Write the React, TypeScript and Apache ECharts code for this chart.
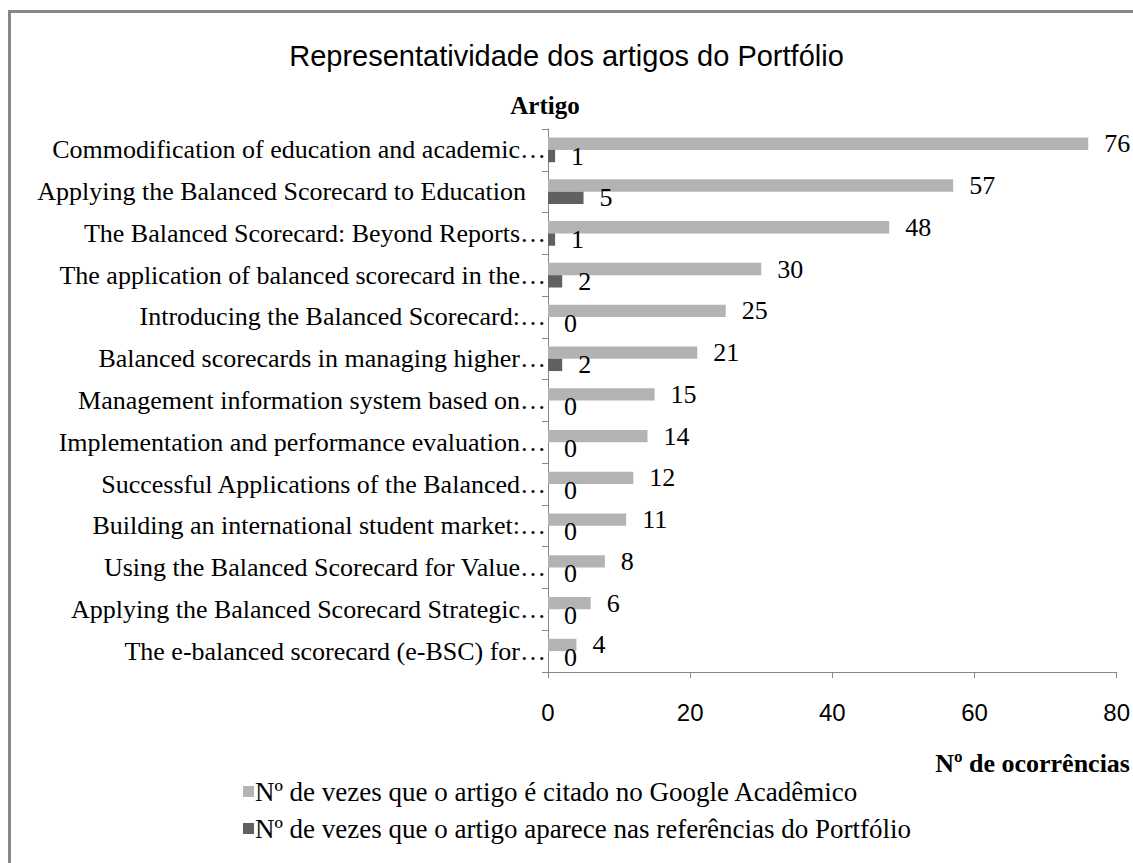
import React, { useEffect, useRef } from "react";
import * as echarts from "echarts";

const categories = [
  "Commodification of education and academic…",
  "Applying the Balanced Scorecard to Education",
  "The Balanced Scorecard: Beyond Reports…",
  "The application of balanced scorecard in the…",
  "Introducing the Balanced Scorecard:…",
  "Balanced scorecards in managing higher…",
  "Management information system based on…",
  "Implementation and performance evaluation…",
  "Successful Applications of the Balanced…",
  "Building an international student market:…",
  "Using the Balanced Scorecard for Value…",
  "Applying the Balanced Scorecard Strategic…",
  "The e-balanced scorecard (e-BSC) for…",
];
const googleCitations = [76, 57, 48, 30, 25, 21, 15, 14, 12, 11, 8, 6, 4];
const portfolioRefs = [1, 5, 1, 2, 0, 2, 0, 0, 0, 0, 0, 0, 0];
const xTicks = [0, 20, 40, 60, 80];
const seriesNames = [
  "Nº de vezes que o artigo é citado no Google Acadêmico",
  "Nº de vezes que o artigo aparece nas referências do Portfólio",
];
const titleText = "Representatividade dos artigos do Portfólio";
const yAxisName = "Artigo";
const xAxisName = "Nº de ocorrências";

const SERIF = "'Liberation Serif', 'Times New Roman', serif";
const SANS = "'Liberation Sans', Arial, sans-serif";

export default function App() {
  const ref = useRef<HTMLDivElement>(null);
  useEffect(() => {
    if (!ref.current) return;
    const chart = echarts.init(ref.current, null, { renderer: "svg" });
    const padLabel = categories[1];
    chart.setOption({
      animation: false,
      backgroundColor: "#ffffff",
      title: {
        text: titleText,
        left: "center",
        top: 36,
        textStyle: { fontFamily: SANS, fontSize: 29, fontWeight: "normal", color: "#000" },
      },
      legend: {
        orient: "vertical",
        left: 238,
        top: 773,
        itemWidth: 11,
        itemHeight: 11,
        itemGap: 10,
        icon: "rect",
        textStyle: { fontFamily: SERIF, fontSize: 27, color: "#000", padding: [0, 0, 0, -4] },
        data: seriesNames,
      },
      grid: { left: 548, right: 15, top: 129, bottom: 191, containLabel: false },
      xAxis: {
        type: "value",
        min: xTicks[0],
        max: xTicks[xTicks.length - 1],
        interval: 20,
        axisLine: { show: true, lineStyle: { color: "#888", width: 1 } },
        axisTick: { show: true, length: 6, lineStyle: { color: "#888" } },
        splitLine: { show: false },
        axisLabel: { fontFamily: SANS, fontSize: 24, color: "#000", margin: 28 },
      },
      yAxis: {
        type: "category",
        inverse: true,
        data: categories,
        axisLine: { show: true, lineStyle: { color: "#888", width: 1 } },
        axisTick: { show: true, length: 6, lineStyle: { color: "#888" } },
        axisLabel: {
          fontFamily: SERIF,
          fontSize: 26,
          color: "#000",
          margin: 2,
          formatter: (v: string) => (v === padLabel ? `{pad|${v}}` : v),
          rich: {
            pad: { fontFamily: SERIF, fontSize: 26, color: "#000", padding: [0, 20, 0, 0] },
          },
        },
      },
      series: [
        {
          name: seriesNames[0],
          type: "bar",
          data: googleCitations,
          barGap: "0%",
          barCategoryGap: "41%",
          itemStyle: { color: "#b3b3b3" },
          label: {
            show: true,
            position: "right",
            distance: 16,
            fontFamily: SERIF,
            fontSize: 26,
            color: "#000",
          },
        },
        {
          name: seriesNames[1],
          type: "bar",
          data: portfolioRefs,
          barGap: "0%",
          barCategoryGap: "41%",
          itemStyle: { color: "#606060" },
          label: {
            show: true,
            position: "right",
            distance: 16,
            fontFamily: SERIF,
            fontSize: 26,
            color: "#000",
          },
        },
      ],
      graphic: [
        {
          type: "rect",
          silent: true,
          shape: { x: 9.5, y: 11.5, width: 1200, height: 1000 },
          style: { fill: "none", stroke: "#888", lineWidth: 3 },
        },
        {
          type: "text",
          x: 545,
          y: 105,
          style: {
            text: yAxisName,
            fontFamily: SERIF,
            fontSize: 25,
            fontWeight: "bold",
            fill: "#000",
            textAlign: "center",
            textVerticalAlign: "middle",
          },
        },
        {
          type: "text",
          x: 1130,
          y: 763,
          style: {
            text: xAxisName,
            fontFamily: SERIF,
            fontSize: 26,
            fontWeight: "bold",
            fill: "#000",
            textAlign: "right",
            textVerticalAlign: "middle",
          },
        },
      ],
    });
    return () => chart.dispose();
  }, []);
  return (
    <div
      ref={ref}
      style={{ position: "fixed", left: 0, top: 0, width: 1133, height: 863 }}
    />
  );
}
